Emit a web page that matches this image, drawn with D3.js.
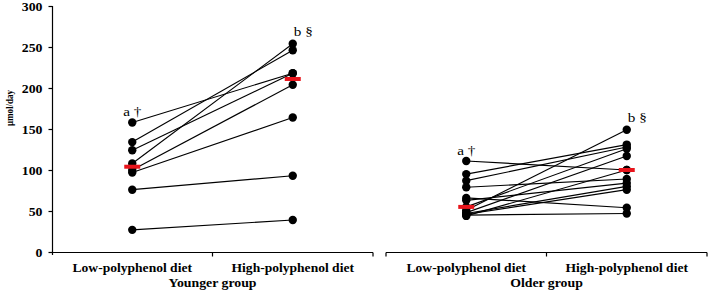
<!DOCTYPE html>
<html><head><meta charset="utf-8">
<script src="https://cdn.jsdelivr.net/npm/d3@7"></script>
<style>body{margin:0;background:#fff} svg{display:block}</style>
</head><body>
<svg id="c" width="708" height="293"></svg>
<script>
// ---- data ----
const diets = ["Low-polyphenol diet", "High-polyphenol diet"];
const groups = ["Younger group", "Older group"];
const yTicks = [0, 50, 100, 150, 200, 250, 300];
const youngerLow  = [158, 134, 124, 108, 100, 97, 76, 27];
const youngerHigh = [218, 246, 218, 254, 204, 164, 93, 39];
const olderLow  = [111, 95, 87, 79, 66, 63, 55, 51, 48, 47, 46, 45, 44];
const olderHigh = [100, 131, 128, 89, 54, 84, 126, 149, 117, 80, 76, 47, 100];
const lowNotes  = ["a †", "a †"];
const highNotes = ["b §", "b §"];
const yLabel = "µmol/day";

// ---- layout ----
const SX = 1.17; // horizontal stretch of the original image's text
const svg = d3.select("#c");
const y = d3.scaleLinear().domain([0, 300]).range([252, 6]);
const panelX = [52, 386], panelW = 321;
const serif = "'Liberation Serif','Times New Roman',serif";

function stext(g, x, yy, str, size, weight, anchor) {
  return g.append("text")
    .attr("transform", `translate(${x},${yy}) scale(${SX},1)`)
    .attr("text-anchor", anchor || "middle")
    .style("font-family", serif)
    .style("font-size", size + "px")
    .style("font-weight", weight || "normal")
    .attr("fill", "#000")
    .text(str);
}

// y axis
const yAxis = d3.axisLeft(y).tickValues(yTicks).tickSize(4).tickSizeOuter(0).tickPadding(0);
const ga = svg.append("g").attr("transform", "translate(52.5,0)").call(yAxis);
ga.select(".domain").attr("stroke", "#000").attr("stroke-width", 1.2)
  .attr("d", `M0,${y(300)}V${y(0) + 3}`);
ga.selectAll(".tick line").attr("stroke", "#000").attr("stroke-width", 1.2);
ga.selectAll(".tick text")
  .attr("x", null)
  .attr("transform", `translate(-10,0) scale(${SX},1)`)
  .attr("dy", "0.35em")
  .style("font-family", serif).style("font-size", "11.8px").style("font-weight", "bold")
  .attr("fill", "#000");
ga.attr("font-size", null).attr("font-family", null);

svg.append("text")
  .attr("transform", `translate(12.5,108) rotate(-90) scale(1,${SX})`)
  .attr("text-anchor", "middle")
  .style("font-family", serif).style("font-size", "9px").style("font-weight", "bold")
  .text(yLabel);

const datasets = [[youngerLow, youngerHigh], [olderLow, olderHigh]];

datasets.forEach(([low, high], gi) => {
  const x0 = panelX[gi];
  const xb = d3.scaleBand().domain(diets).range([x0, x0 + panelW]);
  const cx = d => xb(d) + xb.bandwidth() / 2;
  const g = svg.append("g");

  // x axis line + ticks
  const yb = y(0) + 0.5;
  g.append("line").attr("x1", x0).attr("x2", x0 + panelW).attr("y1", yb).attr("y2", yb)
    .attr("stroke", "#000").attr("stroke-width", 1.2);
  const tickXs = gi === 0 ? [xb(diets[1]), x0 + panelW] : [x0, xb(diets[1]), x0 + panelW];
  tickXs.forEach(tx => g.append("line").attr("x1", tx).attr("x2", tx).attr("y1", yb).attr("y2", yb + 4)
    .attr("stroke", "#000").attr("stroke-width", 1.2));

  // category & group labels
  diets.forEach(d => stext(g, cx(d), 271.5, d, 11.6, "bold"));
  stext(g, x0 + panelW / 2, 286.5, groups[gi], 11.8, "bold");

  // paired lines
  const pairs = low.map((v, i) => [v, high[i]]);
  g.selectAll("line.pair").data(pairs).join("line").attr("class", "pair")
    .attr("x1", cx(diets[0])).attr("x2", cx(diets[1]))
    .attr("y1", p => y(p[0])).attr("y2", p => y(p[1]))
    .attr("stroke", "#000").attr("stroke-width", 1.15);

  // dots
  [low, high].forEach((vals, k) => {
    g.selectAll(null).data(vals).join("circle")
      .attr("cx", cx(diets[k])).attr("cy", v => y(v)).attr("r", 4.2).attr("fill", "#000");
  });

  // median bars
  [low, high].forEach((vals, k) => {
    const m = d3.median(vals);
    g.append("rect").attr("x", cx(diets[k]) - 8).attr("y", y(m) - 2)
      .attr("width", 16).attr("height", 4).attr("fill", "#e8141b");
  });

  // annotations
  stext(g, cx(diets[0]) - 9, y(d3.max(low)) - 6, lowNotes[gi], 13, "normal", "start");
  stext(g, cx(diets[1]) + 1, y(d3.max(high)) - 7.5, highNotes[gi], 13, "normal", "start");
});
</script>
</body></html>
